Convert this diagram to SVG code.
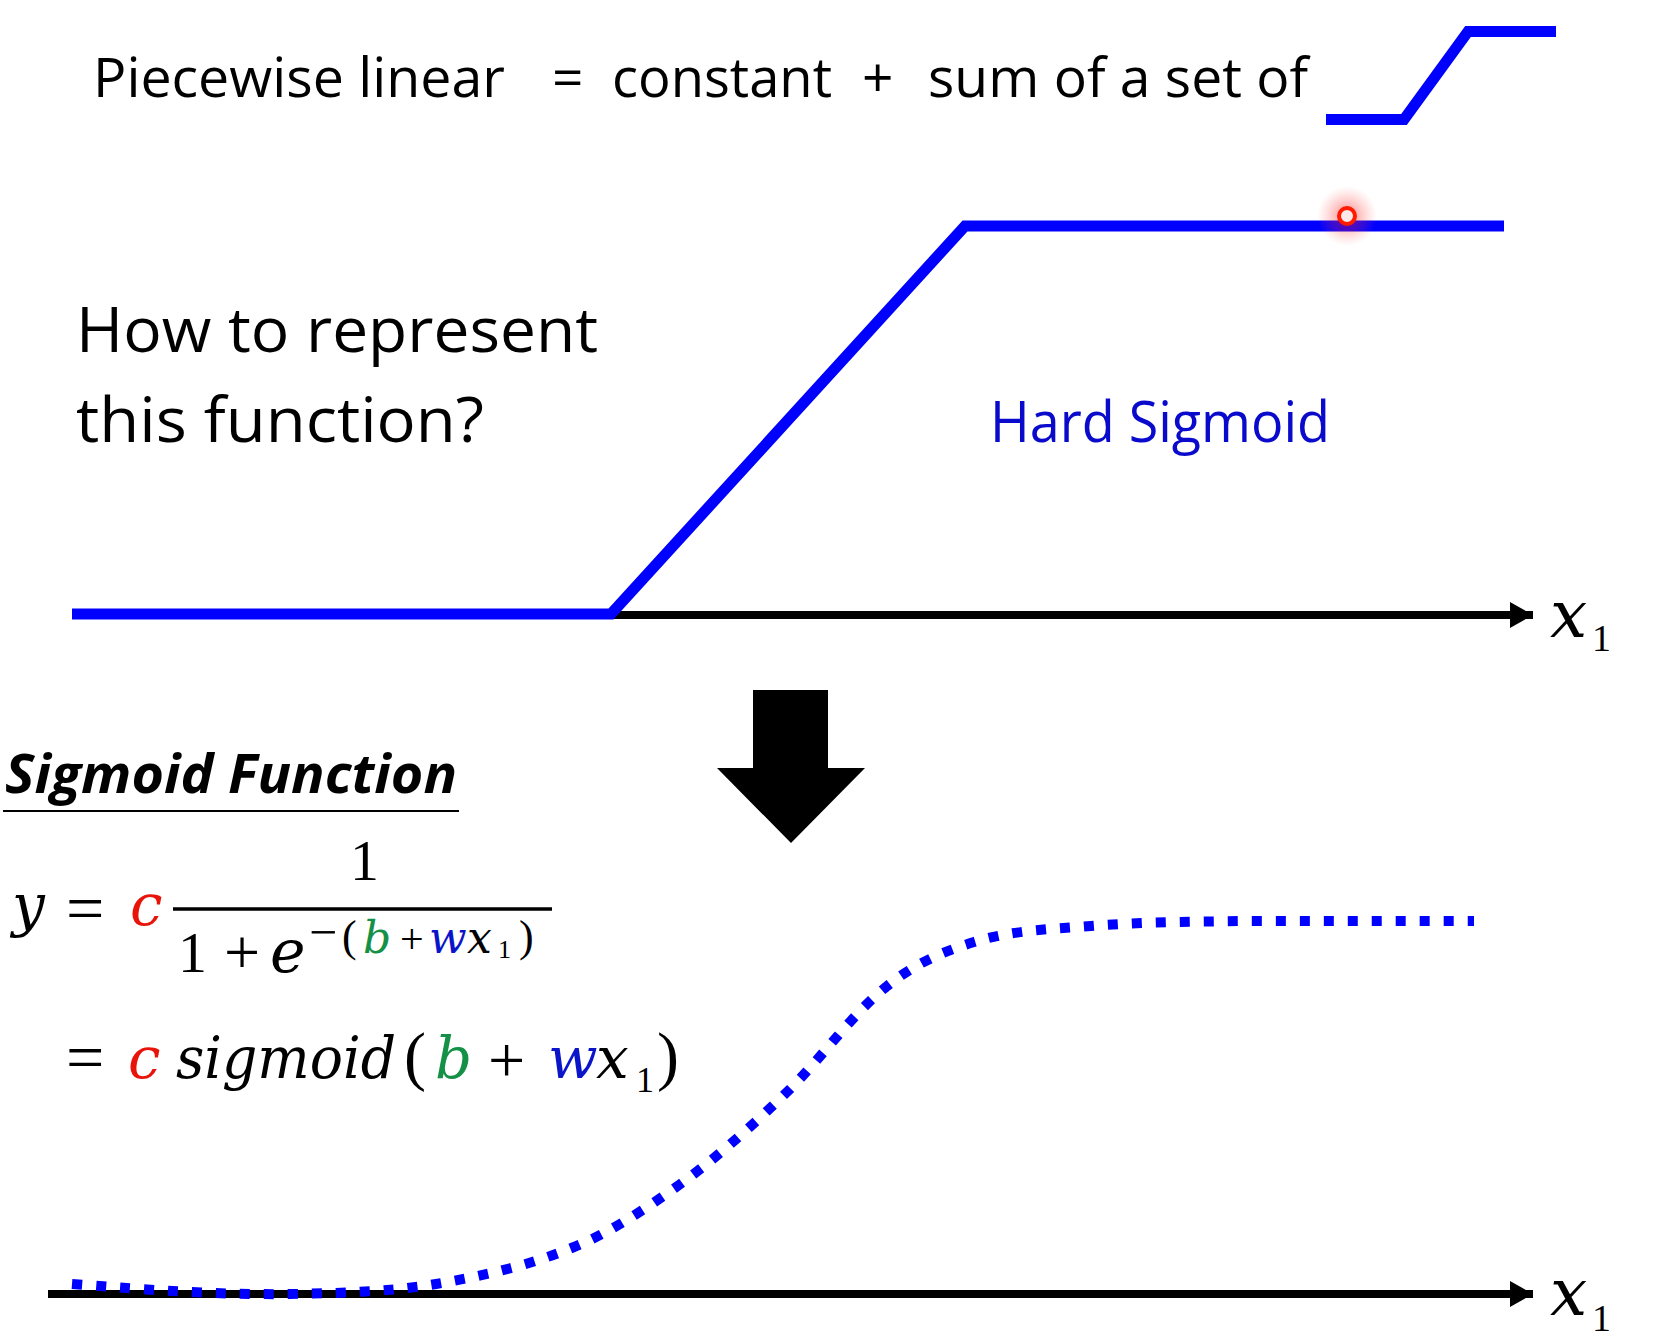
<svg xmlns="http://www.w3.org/2000/svg" width="1666" height="1341" viewBox="0 0 1666 1341">
<style>
.sans{font-family:"Open Sans","Liberation Sans",sans-serif;fill:#000}
.math{font-family:"DejaVu Serif","Liberation Serif",serif;font-style:italic;fill:#000}
.rm{font-family:"Liberation Serif","DejaVu Serif",serif;fill:#000}
.red{fill:#E8140A}
.grn{fill:#149146}
.blu{fill:#0A14C8}
.hs{fill:none;stroke:#0000FF;stroke-width:11;stroke-linejoin:miter}
.axis{fill:none;stroke:#000;stroke-width:8}
.dots{fill:none;stroke:#0000FF;stroke-width:10;stroke-dasharray:10 14}
</style>
<defs>
<marker id="ah" markerUnits="userSpaceOnUse" markerWidth="24" markerHeight="26" refX="23" refY="13" orient="auto">
<path d="M0,0 L23,13 L0,26 Z" fill="#000"/>
</marker>
<radialGradient id="glow">
<stop offset="0" stop-color="#FF0000" stop-opacity="0.5"/>
<stop offset="0.5" stop-color="#FF3030" stop-opacity="0.25"/>
<stop offset="1" stop-color="#FF6060" stop-opacity="0"/>
</radialGradient>
</defs>
<rect width="1666" height="1341" fill="#fff"/>

<g id="title">
<text class="sans" x="93" y="97" font-size="55" textLength="412" lengthAdjust="spacingAndGlyphs">Piecewise linear</text>
<text class="sans" x="552" y="97" font-size="55">=</text>
<text class="sans" x="612" y="97" font-size="55" textLength="220" lengthAdjust="spacingAndGlyphs">constant</text>
<text class="sans" x="862" y="97" font-size="55">+</text>
<text class="sans" x="928" y="97" font-size="55" textLength="380" lengthAdjust="spacingAndGlyphs">sum of a set of</text>
<path class="hs" d="M1326,119.5 L1404,119.5 L1468,31.5 L1556,31.5"/>
</g>

<g id="question">
<text class="sans" x="76" y="352" font-size="63" textLength="522" lengthAdjust="spacingAndGlyphs">How to represent</text>
<text class="sans" x="76" y="442" font-size="63" textLength="408" lengthAdjust="spacingAndGlyphs">this function?</text>
</g>

<g id="hard-sigmoid-plot">
<line class="axis" x1="605" y1="615" x2="1533" y2="615" marker-end="url(#ah)"/>
<path class="hs" d="M72,614 L611,614 L965,226 L1504,226"/>
<text class="sans" x="990" y="442" font-size="56" style="fill:#0A0ACC" textLength="340" lengthAdjust="spacingAndGlyphs">Hard Sigmoid</text>
<text class="math" x="1550" y="637" font-size="66">x</text>
<text class="rm" x="1592" y="651" font-size="38">1</text>
<circle cx="1347" cy="216" r="30" fill="url(#glow)"/>
<circle cx="1347" cy="216" r="8" fill="#FFE8E8" stroke="#FF1A00" stroke-width="4"/>
</g>

<g id="sigmoid-formula">
<text class="sans" x="5" y="793" font-size="53" font-weight="bold" font-style="italic" textLength="452" lengthAdjust="spacingAndGlyphs">Sigmoid Function</text>
<line x1="3" y1="811" x2="459" y2="811" stroke="#000" stroke-width="2"/>
<text class="math" x="12" y="925" font-size="58">y</text>
<text class="rm" x="66" y="931" font-size="68">=</text>
<text class="math red" x="130" y="925" font-size="58">c</text>
<text class="rm" x="350" y="880" font-size="58">1</text>
<line x1="173" y1="909" x2="552" y2="909" stroke="#000" stroke-width="3.5"/>
<text class="rm" x="178" y="972" font-size="58">1</text>
<text class="rm" x="224" y="974" font-size="64">+</text>
<text class="math" x="270" y="972" font-size="60">e</text>
<text class="rm" x="309" y="949" font-size="50">−</text>
<text class="rm" x="342" y="951" font-size="44">(</text>
<text class="math grn" x="363" y="953" font-size="44">b</text>
<text class="rm" x="400" y="953" font-size="42">+</text>
<text class="math blu" x="429" y="953" font-size="44">w</text>
<text class="math" x="467" y="953" font-size="44">x</text>
<text class="rm" x="498" y="958" font-size="26">1</text>
<text class="rm" x="519" y="951" font-size="44">)</text>
<text class="rm" x="66" y="1080" font-size="68">=</text>
<text class="math red" x="128" y="1078" font-size="58">c</text>
<text class="math" x="176" y="1078" font-size="58" textLength="220" lengthAdjust="spacingAndGlyphs">sigmoid</text>
<text class="rm" x="404" y="1078" font-size="66">(</text>
<text class="math grn" x="435" y="1078" font-size="58">b</text>
<text class="rm" x="488" y="1082" font-size="66">+</text>
<text class="math blu" x="548" y="1078" font-size="58">w</text>
<text class="math" x="596" y="1078" font-size="58">x</text>
<text class="rm" x="636" y="1092" font-size="36">1</text>
<text class="rm" x="657" y="1078" font-size="66">)</text>
</g>

<g id="sigmoid-plot">
<line class="axis" x1="48" y1="1294" x2="1533" y2="1294" marker-end="url(#ah)"/>
<path class="dots" d="M72,1284 C150,1290 220,1295 290,1294 C360,1293 400,1290 436,1284 C482,1276 528,1266 574,1247 C609,1233 644,1210 679,1185 C715,1159 751,1127 787,1092 C820,1060 853,1013 886,987 C915,963 945,951 974,942 C1013,930 1052,929 1091,926 C1142,922 1193,921.7 1244,921 C1321,921 1397,921 1474,921"/>
<text class="math" x="1550" y="1315" font-size="66">x</text>
<text class="rm" x="1592" y="1331" font-size="38">1</text>
</g>

<g id="connectors">
<path d="M753,690 L828,690 L828,768 L865,768 L791,843 L717,768 L753,768 Z" fill="#000"/>
</g>
</svg>
